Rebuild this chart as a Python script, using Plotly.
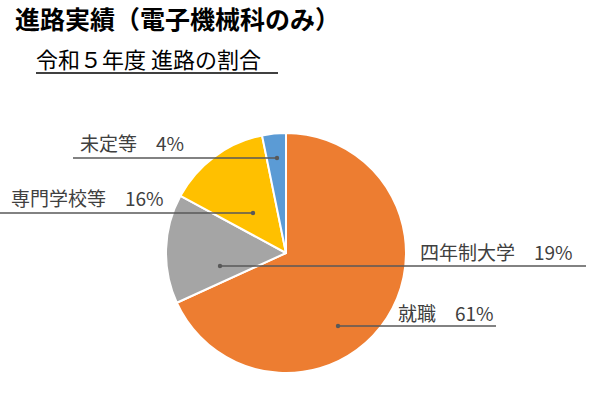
import plotly.graph_objects as go

# ---- data ----
categories = ["就職", "四年制大学", "専門学校等", "未定等"]
slice_values = [68.2, 14.7, 13.9, 3.2]          # slice sizes as drawn
pct_labels = ["61%", "19%", "16%", "4%"]          # printed percentages
colors = ["#ED7D31", "#A5A5A5", "#FFC000", "#5B9BD5"]

title_text = "進路実績（電子機械科のみ）"
subtitle_text = "令和５年度 進路の割合"

W, H = 605, 394
CX, CY, R = 286, 253, 120   # pie centre / radius in pixels


def px(x):
    return x / W


def py(y):
    return 1 - y / H


# label layout (pixels): text left, text centre y, line y, line start x, line end x, dot x
label_layout = {
    "就職":     dict(tx=396, ty=312, ly=326, x0=338, x1=496, dot=338),
    "四年制大学": dict(tx=418, ty=251, ly=266, x0=220, x1=586, dot=220),
    "専門学校等": dict(tx=9,   ty=198, ly=213, x0=0,   x1=253, dot=253),
    "未定等":    dict(tx=78,  ty=142, ly=158, x0=73,  x1=277, dot=277),
}

fig = go.Figure()
fig.add_trace(go.Pie(
    labels=categories,
    values=slice_values,
    sort=False,
    direction="clockwise",
    rotation=0,
    marker=dict(colors=colors, line=dict(color="white", width=2)),
    textinfo="none",
    hoverinfo="label+percent",
    showlegend=False,
    domain=dict(x=[px(CX - R), px(CX + R)], y=[py(CY + R), py(CY - R)]),
))

shapes = []
annotations = []
font_label = dict(family="Noto Sans CJK JP", size=19, color="#404040")
for cat, pct in zip(categories, pct_labels):
    L = label_layout[cat]
    shapes.append(dict(type="line", xref="paper", yref="paper",
                       x0=px(L["x0"]), x1=px(L["x1"]), y0=py(L["ly"]), y1=py(L["ly"]),
                       line=dict(color="#595959", width=1.3), layer="above"))
    d = 2.2
    shapes.append(dict(type="circle", xref="paper", yref="paper",
                       x0=px(L["dot"] - d), x1=px(L["dot"] + d),
                       y0=py(L["ly"] + d), y1=py(L["ly"] - d),
                       fillcolor="#595959", line=dict(width=0), layer="above"))
    annotations.append(dict(text=f"{cat}\u3000{pct}", xref="paper", yref="paper",
                            x=px(L["tx"]), y=py(L["ty"]), xanchor="left", yanchor="middle",
                            showarrow=False, font=font_label))

# title and subtitle
annotations.append(dict(text=f"<b>{title_text}</b>", xref="paper", yref="paper",
                        x=px(13), y=py(18), xanchor="left", yanchor="middle",
                        showarrow=False,
                        font=dict(family="Noto Sans CJK JP", size=25, color="#000000")))
annotations.append(dict(text=subtitle_text, xref="paper", yref="paper",
                        x=px(34), y=py(58), xanchor="left", yanchor="middle",
                        showarrow=False,
                        font=dict(family="Noto Sans CJK JP", size=22, color="#000000")))
shapes.append(dict(type="line", xref="paper", yref="paper",
                   x0=px(36), x1=px(278), y0=py(73), y1=py(73),
                   line=dict(color="#000000", width=1.5)))

fig.update_layout(
    width=W, height=H,
    margin=dict(l=0, r=0, t=0, b=0),
    paper_bgcolor="white", plot_bgcolor="white",
    shapes=shapes, annotations=annotations,
)

fig.write_html("out.html",
               config={"displayModeBar": False},
               post_script="document.body.style.margin='0px';document.body.style.overflow='hidden';")
